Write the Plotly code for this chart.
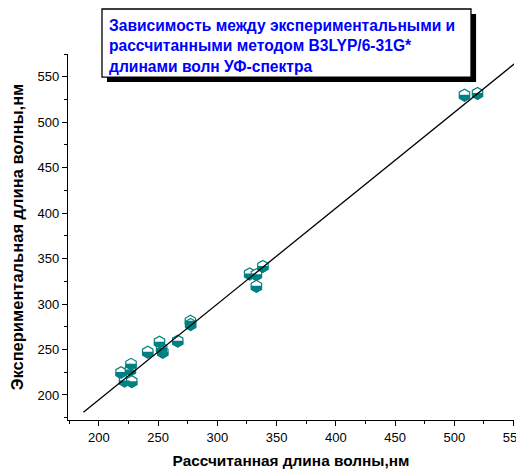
import plotly.graph_objects as go

# ---- data ----
calc_nm = [218.8, 227.2, 226.7, 221.7, 227.8, 241.3, 251.2, 253.0, 254.0, 266.6,
           277.3, 277.5, 327.3, 333.0, 338.5, 333.0, 508.6, 519.6]
exp_nm = [224.6, 233.7, 227.4, 215.4, 214.7, 247.1, 258.1, 251.0, 247.0, 259.2,
          281.1, 277.5, 333.1, 332.3, 341.4, 319.5, 529.7, 531.6]
fit_x = [187.0, 551.0]
fit_slope = 1.054
fit_intercept = -16.2
x_ticks = [200, 250, 300, 350, 400, 450, 500, 550]
y_ticks = [200, 250, 300, 350, 400, 450, 500, 550]
title_lines = ["Зависимость между экспериментальными и",
               "рассчитанными методом B3LYP/6-31G*",
               "длинами волн УФ-спектра"]
x_title = "Рассчитанная длина волны,нм"
y_title = "Экспериментальная длина волны,нм"

TEAL = "#008080"
FONT = "Liberation Sans, Arial, sans-serif"
MSIZE = 12

fig = go.Figure()
fig.add_trace(go.Scatter(
    x=calc_nm, y=exp_nm, mode="markers",
    marker=dict(symbol="hexagon", size=MSIZE, color="white",
                line=dict(color=TEAL, width=1.2)),
    cliponaxis=False, showlegend=False, hoverinfo="x+y"))

# lower half of each hexagon filled (pixel-sized glyph anchored at the data point)
r = MSIZE / 2.0 + 0.3
r1 = r / 2.0
r2 = r * 3 ** 0.5 / 2.0
half_path = f"M {r2:.2f},0.5 V {-r1:.2f} L 0,{-r:.2f} L {-r2:.2f},{-r1:.2f} V 0.5 Z"
shapes = []
for xv, yv in zip(calc_nm, exp_nm):
    shapes.append(dict(type="path", xref="x", yref="y", xsizemode="pixel", ysizemode="pixel",
                       xanchor=xv, yanchor=yv, path=half_path,
                       fillcolor=TEAL, line=dict(width=0), layer="above"))

# fitted line
shapes.append(dict(type="line", xref="x", yref="y",
                   x0=fit_x[0], y0=fit_slope * fit_x[0] + fit_intercept,
                   x1=fit_x[1], y1=fit_slope * fit_x[1] + fit_intercept,
                   line=dict(color="black", width=1.3), layer="above"))

# title box with drop shadow (paper coords)
shapes.append(dict(type="rect", xref="paper", yref="paper",
                   x0=0.0874, x1=0.915, y0=0.9235, y1=1.109,
                   fillcolor="black", line=dict(width=0), layer="above"))
shapes.append(dict(type="rect", xref="paper", yref="paper",
                   x0=0.0762, x1=0.9036, y0=0.937, y1=1.123,
                   fillcolor="white", line=dict(color="black", width=1.3), layer="above"))

fig.add_annotation(
    xref="paper", yref="paper", x=0.0874, y=1.0219, xanchor="left", yanchor="middle",
    align="left", showarrow=False,
    text="<br>".join(f"<b>{t}</b>" for t in title_lines),
    font=dict(family=FONT, size=15.6, color="#0000FF"))

axis_common = dict(
    showline=True, linecolor="black", linewidth=1.3, mirror=False,
    ticks="outside", ticklen=5, tickwidth=1.3, tickcolor="black",
    showgrid=False, zeroline=False, automargin=False, ticklabeloverflow="allow",
    tickfont=dict(family=FONT, size=13, color="black"),
    minor=dict(ticks="outside", ticklen=3, tickwidth=1, tickcolor="black", dtick=25, tick0=0),
)

# page body has an 8px margin, so the figure is sized to end at the window edge
fig.update_layout(
    width=516, height=461,
    margin=dict(l=60, r=10, t=46, b=49),
    plot_bgcolor="white", paper_bgcolor="white",
    shapes=shapes,
    xaxis=dict(range=[174, 550.4], tickvals=x_ticks,
               title=dict(text=f"<b>{x_title}</b>", font=dict(family=FONT, size=15.4, color="black"),
                          standoff=14),
               **axis_common),
    yaxis=dict(range=[172.5, 575], tickvals=y_ticks,
               title=dict(text=f"<b>{y_title}</b>", font=dict(family=FONT, size=16.5, color="black"),
                          standoff=12),
               **axis_common),
)

fig.write_html("out.html")
